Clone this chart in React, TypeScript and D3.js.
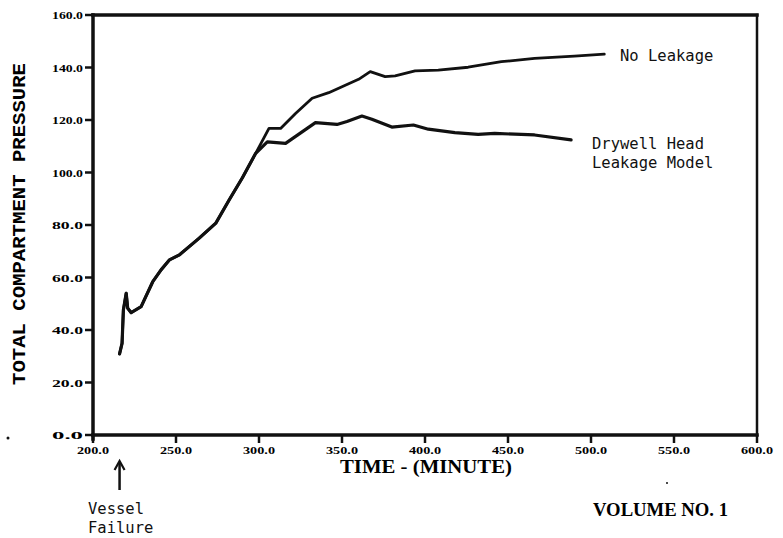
import React from "react";
import * as d3 from "d3";

// ---- data ----
const xTicks = [200, 250, 300, 350, 400, 450, 500, 550, 600];
const yTicks = [0, 20, 40, 60, 80, 100, 120, 140, 160];

const noLeakTime = [216, 217.5, 218.3, 220, 220.9, 223, 229, 236, 241, 246, 252, 264, 274, 282, 290, 298, 306, 313, 322, 332, 342, 350, 360, 367, 376, 382, 394, 408, 426, 446, 466, 490, 508];
const noLeakPressure = [30.9, 34.9, 47.6, 54, 48.3, 46.6, 48.9, 58.4, 62.9, 66.7, 68.6, 75, 80.7, 89.5, 98, 107.3, 116.8, 116.8, 122.5, 128.3, 130.4, 132.7, 135.5, 138.4, 136.5, 136.8, 138.7, 139, 140.1, 142.2, 143.5, 144.3, 145.1];

const drywellTime = [216, 217.5, 218.3, 220, 220.9, 223, 229, 236, 241, 246, 252, 264, 274, 282, 290, 298, 305, 316, 334, 347, 353, 362, 368, 380, 393, 402, 418, 432, 442, 466, 488];
const drywellPressure = [30.9, 34.9, 47.6, 54, 48.3, 46.6, 48.9, 58.4, 62.9, 66.7, 68.6, 75, 80.7, 89.5, 98, 107.3, 111.7, 111.1, 119, 118.3, 119.4, 121.5, 120.3, 117.3, 118.1, 116.5, 115.2, 114.5, 114.9, 114.3, 112.4];

const vesselFailureTime = 216;

export default function App() {
  const W = 783, H = 538;
  const x = d3.scaleLinear().domain([200, 600]).range([93, 757]);
  const y = d3.scaleLinear().domain([0, 160]).range([435, 15]);
  const line = d3.line<[number, number]>().x(d => x(d[0])).y(d => y(d[1]));
  const noLeak = line(noLeakTime.map((t, i) => [t, noLeakPressure[i]]) as [number, number][]) || "";
  const dry = line(drywellTime.map((t, i) => [t, drywellPressure[i]]) as [number, number][]) || "";

  const tickFont = { fontFamily: "Liberation Serif", fontWeight: 700, fontSize: 10.5 } as const;
  const mono = { fontFamily: "DejaVu Sans Mono", fontSize: 15.5, fill: "#111" } as const;
  const ax = x(vesselFailureTime);

  return (
    <svg width={W} height={H} style={{ position: "absolute", left: 0, top: 0, background: "#fff" }}>
      <rect width={W} height={H} fill="#fff" />
      {/* frame */}
      <g stroke="#111" strokeWidth={3.5} fill="none" strokeLinecap="square">
        <line x1={x(200)} y1={y(160)} x2={x(600)} y2={y(160)} />
        <line x1={x(200)} y1={y(0)} x2={x(600)} y2={y(0)} />
        <line x1={x(200)} y1={y(160)} x2={x(200)} y2={y(0) + 4} />
        <line x1={x(600)} y1={y(160)} x2={x(600)} y2={y(0)} strokeWidth={2.5} />
      </g>
      {/* y ticks */}
      {yTicks.map(v => (
        <g key={"y" + v}>
          <line x1={x(200) - 8} x2={x(200)} y1={y(v)} y2={y(v)} stroke="#111" strokeWidth={2.5} />
          <text x={x(200) - 10} y={y(v) + 4} textAnchor="end" {...tickFont} textLength={31} lengthAdjust="spacingAndGlyphs">{v.toFixed(1)}</text>
        </g>
      ))}
      {/* x ticks */}
      {xTicks.map(v => (
        <g key={"x" + v}>
          <line x1={x(v)} x2={x(v)} y1={y(0)} y2={y(0) + 8} stroke="#111" strokeWidth={2.5} />
          <text x={x(v)} y={y(0) + 19} textAnchor="middle" {...tickFont} textLength={32} lengthAdjust="spacingAndGlyphs">{v.toFixed(1)}</text>
        </g>
      ))}
      {/* curves */}
      <path d={noLeak} fill="none" stroke="#111" strokeWidth={2.8} strokeLinejoin="round" strokeLinecap="round" />
      <path d={dry} fill="none" stroke="#111" strokeWidth={3.2} strokeLinejoin="round" strokeLinecap="round" />
      {/* curve labels */}
      <text x={620} y={61} {...mono}>No Leakage</text>
      <text x={592} y={149} {...mono}>Drywell Head</text>
      <text x={592} y={168} {...mono}>Leakage Model</text>
      {/* axis titles */}
      <text x={340} y={473} fontFamily="Liberation Serif" fontWeight={700} fontSize={18} textLength={172} lengthAdjust="spacingAndGlyphs">TIME - (MINUTE)</text>
      <text transform="translate(25,224) rotate(-90)" textAnchor="middle" fontFamily="Liberation Mono" fontWeight={700} fontSize={19} textLength={322} lengthAdjust="spacingAndGlyphs">TOTAL COMPARTMENT PRESSURE</text>
      {/* vessel failure arrow */}
      <line x1={ax} x2={ax} y1={462} y2={490} stroke="#111" strokeWidth={2.5} />
      <path d={`M${ax - 5},${470} L${ax},${461} L${ax + 5},${470}`} fill="none" stroke="#111" strokeWidth={2.2} />
      <text x={88} y={514} {...mono}>Vessel</text>
      <text x={88} y={533} {...mono}>Failure</text>
      <text x={593} y={516} fontFamily="Liberation Serif" fontWeight={700} fontSize={18} textLength={135} lengthAdjust="spacingAndGlyphs">VOLUME NO. 1</text>
      {/* specks */}
      <circle cx={8} cy={438} r={1.5} fill="#111" />
      <circle cx={667} cy={483} r={1} fill="#111" />
    </svg>
  );
}
